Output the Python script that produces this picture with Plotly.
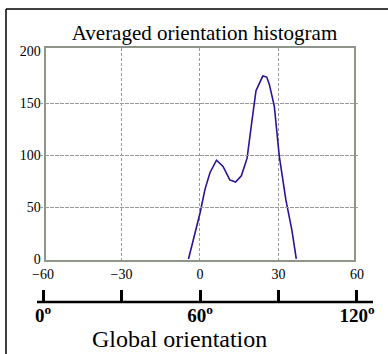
import plotly.graph_objects as go

# data
orientation = [-4.4, -2.5, 0.0, 1.9, 3.8, 6.3, 8.8, 11.4, 13.6, 15.8, 18.0, 19.6,
               21.4, 24.0, 25.5, 26.5, 28.4, 30.3, 32.8, 35.1, 36.8]
counts = [0, 18, 44, 67, 83, 95, 89, 76, 74, 80, 97, 128,
          162, 176, 175, 168, 147, 99, 57, 28, 0]
x_ticks = [-60, -30, 0, 30, 60]
y_ticks = [0, 50, 100, 150, 200]
global_ticks = [0, 30, 60, 90, 120]
global_labels = ["0<sup>o</sup>", " ", "60<sup>o</sup>", " ", "120<sup>o</sup>"]

W, H = 388, 354
ML, MR = 40, 28
PW = W - ML - MR
serif = "Liberation Serif"
border = "#8e9689"
grid = "#9a9a9a"
pad = 1.15  # range padding so the end ticks are not dropped
LO, HI = -60 - pad, 60 + pad

fig = go.Figure()
fig.add_trace(go.Scatter(x=orientation, y=counts, mode="lines",
                         line=dict(color="#26159a", width=1.6),
                         hoverinfo="skip", showlegend=False))
# invisible traces to create the label axis and the lower axis
fig.add_trace(go.Scatter(x=[0], y=[0], xaxis="x3", yaxis="y", mode="markers",
                         marker=dict(opacity=0), showlegend=False, hoverinfo="skip"))
fig.add_trace(go.Scatter(x=[60], y=[0.5], xaxis="x2", yaxis="y2", mode="markers",
                         marker=dict(opacity=0), showlegend=False, hoverinfo="skip"))

fig.update_layout(
    width=W, height=H,
    margin=dict(l=ML, r=MR, t=0, b=0, autoexpand=False),
    paper_bgcolor="white", plot_bgcolor="rgba(0,0,0,0)",
    font=dict(family=serif, size=14, color="black"),
    title=dict(text="Averaged orientation histogram", x=0.527, y=1 - 33 / H,
               xanchor="center", yanchor="middle",
               font=dict(family=serif, size=21, color="black")),
    xaxis=dict(domain=[(-59 - LO) / (HI - LO), (59 - LO) / (HI - LO)], range=[-59, 59],
               anchor="y", tickmode="array", tickvals=x_ticks, showticklabels=False,
               ticks="", showgrid=True, gridcolor=grid, griddash="3px,2px",
               gridwidth=1, zeroline=False,
               showline=True, linecolor=border, linewidth=2, mirror=True),
    xaxis3=dict(domain=[0, 1], range=[LO, HI], anchor="y",
                tickmode="array", tickvals=x_ticks, showgrid=False,
                zeroline=False, ticks="", showline=False, ticklabelstandoff=4,
                tickfont=dict(family=serif, size=14, color="black")),
    yaxis=dict(domain=[(H - 260) / H, (H - 48) / H], range=[-1, 203],
               tickmode="array", tickvals=y_ticks, showgrid=False, zeroline=False,
               ticks="", showline=True, linecolor=border, linewidth=2, mirror=True,
               tickfont=dict(family=serif, size=14, color="black"),
               minor=dict(tickmode="array", tickvals=[50, 100, 150], showgrid=True,
                          gridcolor=grid, griddash="3px,2px", gridwidth=1, ticks="")),
    xaxis2=dict(domain=[0, 1], range=[LO + 60, HI + 60], anchor="y2", side="bottom",
                tickmode="array", tickvals=global_ticks, ticktext=global_labels,
                ticks="inside", ticklen=12, tickwidth=2.5, tickcolor="black",
                showgrid=False, zeroline=False, showline=False, ticklabelstandoff=0,
                tickfont=dict(family=serif, size=19, color="black", weight="bold")),
    yaxis2=dict(domain=[(H - 302) / H, (H - 286) / H], range=[0, 1],
                visible=False),
)

# outer black frame (left and top sides visible)
fx = (6 - ML) / PW
fy = 1 - 9 / H
fig.add_shape(type="line", xref="paper", yref="paper", x0=fx, x1=1.3, y0=fy, y1=fy,
              line=dict(color="black", width=1.5))
fig.add_shape(type="line", xref="paper", yref="paper", x0=fx, x1=fx, y0=fy, y1=-0.1,
              line=dict(color="black", width=1.5))
# lower axis baseline
ly = (H - 302) / H
fig.add_shape(type="line", xref="paper", yref="paper",
              x0=(37 - ML) / PW, x1=(373 - ML) / PW, y0=ly, y1=ly,
              line=dict(color="black", width=2.5))

fig.add_annotation(text="Global orientation", xref="paper", yref="paper",
                   x=(179 - ML) / PW, y=(H - 339) / H,
                   xanchor="center", yanchor="middle", showarrow=False,
                   font=dict(family=serif, size=24, color="black"))

fig.write_html("out.html")
